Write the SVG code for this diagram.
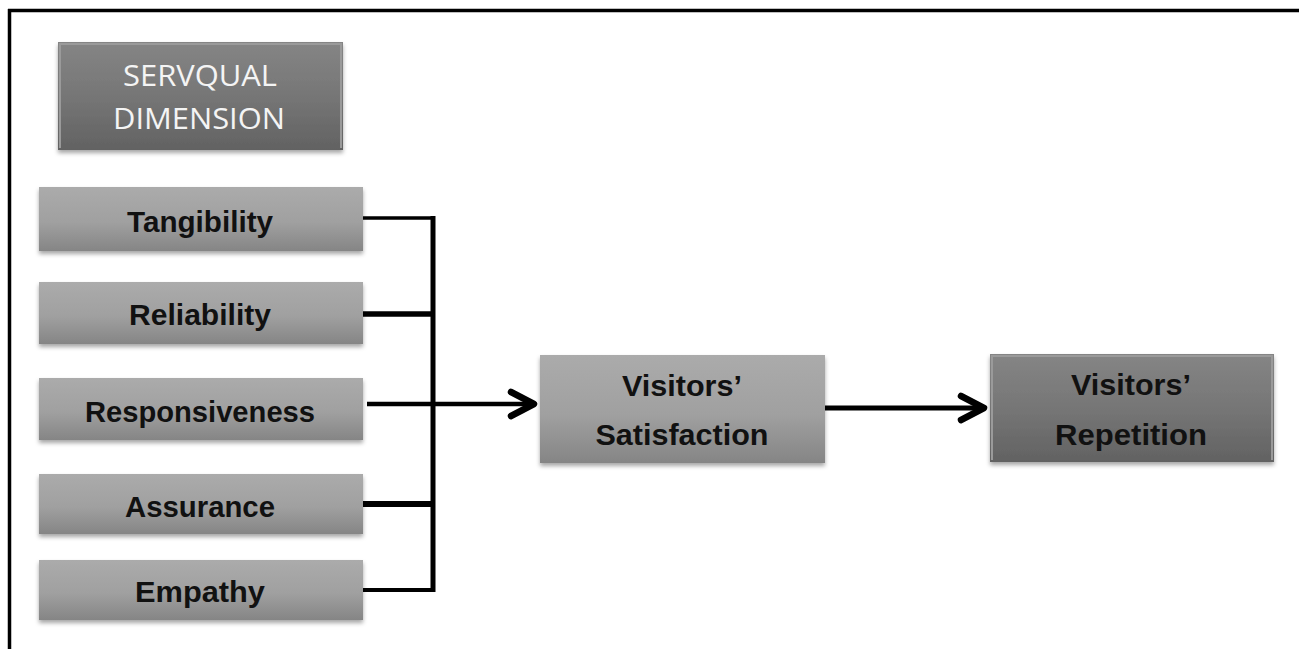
<svg xmlns="http://www.w3.org/2000/svg" width="1299" height="649" viewBox="0 0 1299 649">
  <defs>
    <linearGradient id="gLight" x1="0" y1="0" x2="0" y2="1">
      <stop offset="0" stop-color="#ababab"/>
      <stop offset="0.55" stop-color="#a0a0a0"/>
      <stop offset="1" stop-color="#858585"/>
    </linearGradient>
    <linearGradient id="gDark" x1="0" y1="0" x2="0" y2="1">
      <stop offset="0" stop-color="#858585"/>
      <stop offset="0.5" stop-color="#767676"/>
      <stop offset="1" stop-color="#626262"/>
    </linearGradient>
    <filter id="shadow" x="-5%" y="-10%" width="110%" height="130%">
      <feDropShadow dx="0" dy="3" stdDeviation="2" flood-color="#000" flood-opacity="0.35"/>
    </filter>
    <marker id="chev" viewBox="0 0 34 34" refX="28" refY="17" markerWidth="34" markerHeight="34" markerUnits="userSpaceOnUse" orient="auto">
      <polyline points="5,5 28,17 5,29" fill="none" stroke="#000" stroke-width="6.5" stroke-linecap="round" stroke-linejoin="round"/>
    </marker>
    <style>
      .light { fill: url(#gLight); filter: url(#shadow); }
      .dark { fill: url(#gDark); filter: url(#shadow); }
      .bevelD { fill: none; stroke: #9a9a9a; stroke-width: 2; }
      .lbl { font-family: "Liberation Sans", Arial, sans-serif; font-weight: bold; font-size: 30px; fill: #111; text-anchor: middle; }
      .head { font-family: "Open Sans", "Liberation Sans", sans-serif; font-size: 30px; fill: #f4f4f4; text-anchor: middle; }
      .wire { fill: none; stroke: #000; stroke-linecap: butt; }
    </style>
  </defs>

  <rect width="1299" height="649" fill="#fff"/>

  <!-- frame -->
  <g id="frame" fill="none" stroke="#000" stroke-width="3.5">
    <line x1="8" y1="10.5" x2="1299" y2="10.5"/>
    <line x1="9.5" y1="9" x2="9.5" y2="649"/>
  </g>

  <!-- header -->
  <g id="servqual">
    <rect class="dark" x="58" y="42" width="285" height="108"/>
    <polyline class="bevelD" points="60,148 60,44 341,44 341,148"/>
    <text class="head" x="200" y="86" textLength="154" lengthAdjust="spacingAndGlyphs">SERVQUAL</text>
    <text class="head" x="199" y="129" textLength="172" lengthAdjust="spacingAndGlyphs">DIMENSION</text>
  </g>

  <!-- dimension boxes -->
  <g id="tangibility">
    <rect class="light" x="39" y="187" width="324" height="64"/>
    <text class="lbl" x="200" y="232" textLength="146" lengthAdjust="spacingAndGlyphs">Tangibility</text>
  </g>
  <g id="reliability">
    <rect class="light" x="39" y="282" width="324" height="62"/>
    <text class="lbl" x="200" y="325" textLength="142" lengthAdjust="spacingAndGlyphs">Reliability</text>
  </g>
  <g id="responsiveness">
    <rect class="light" x="39" y="378" width="324" height="62"/>
    <text class="lbl" x="200" y="422" textLength="230" lengthAdjust="spacingAndGlyphs">Responsiveness</text>
  </g>
  <g id="assurance">
    <rect class="light" x="39" y="474" width="324" height="60"/>
    <text class="lbl" x="200" y="517" textLength="150" lengthAdjust="spacingAndGlyphs">Assurance</text>
  </g>
  <g id="empathy">
    <rect class="light" x="39" y="560" width="324" height="60"/>
    <text class="lbl" x="200" y="602" textLength="130" lengthAdjust="spacingAndGlyphs">Empathy</text>
  </g>

  <!-- outcome boxes -->
  <g id="satisfaction">
    <rect class="light" x="540" y="355" width="285" height="108"/>
    <text class="lbl" x="682" y="396" textLength="120" lengthAdjust="spacingAndGlyphs">Visitors’</text>
    <text class="lbl" x="682" y="445" textLength="173" lengthAdjust="spacingAndGlyphs">Satisfaction</text>
  </g>
  <g id="repetition">
    <rect class="dark" x="990" y="354" width="284" height="108"/>
    <polyline class="bevelD" points="992,460 992,356 1272,356 1272,460"/>
    <text class="lbl" x="1131" y="395" textLength="120" lengthAdjust="spacingAndGlyphs">Visitors’</text>
    <text class="lbl" x="1131" y="445" textLength="152" lengthAdjust="spacingAndGlyphs">Repetition</text>
  </g>

  <!-- connectors -->
  <g id="connectors">
    <line class="wire" x1="433" y1="216" x2="433" y2="592" stroke-width="5"/>
    <line class="wire" x1="363" y1="218" x2="435" y2="218" stroke-width="3.5"/>
    <line class="wire" x1="363" y1="314" x2="433" y2="314" stroke-width="5.5"/>
    <line class="wire" x1="363" y1="504" x2="433" y2="504" stroke-width="6"/>
    <line class="wire" x1="363" y1="590" x2="435" y2="590" stroke-width="4"/>
    <line class="wire" x1="367" y1="404" x2="534" y2="404" stroke-width="4.5" marker-end="url(#chev)"/>
    <line class="wire" x1="825" y1="408" x2="984" y2="408" stroke-width="5" marker-end="url(#chev)"/>
  </g>
</svg>
